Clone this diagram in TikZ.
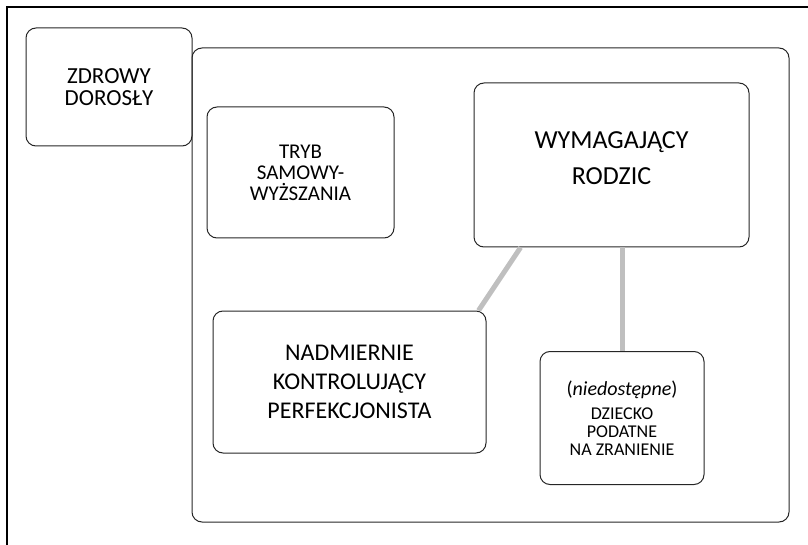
\documentclass[tikz,border=0pt]{standalone}
\usepackage{fontspec}
\setmainfont{Carlito}
\usepackage{tikz}
\usetikzlibrary{positioning}

\tikzset{
  modebox/.style={draw=black!85, line width=1pt, rounded corners=10pt, align=center},
  link/.style={draw=black!25, line width=5pt}
}

\begin{document}
\begin{tikzpicture}[x=1pt, y=-1pt]
    \useasboundingbox (0,0) rectangle (808,545);

    % Draw outer frame
    \draw[line width=2pt] (7,545) -- (7,7) -- (808,7);

    % Draw container and healthy adult
    \node[modebox, minimum width=597pt, minimum height=474pt] (modes) at (490.5,285) {};
    \node[modebox, minimum width=166pt, minimum height=118pt,
          font=\fontsize{23}{21.5}\selectfont] (adult) at (109,87) {ZDROWY\\DOROSŁY};

    % Draw inner modes
    \node[modebox, minimum width=187pt, minimum height=131pt,
          font=\fontsize{21}{21}\selectfont] (aggr) at (300.5,172.5) {TRYB\\SAMOWY-\\WYŻSZANIA};
    \node[modebox, minimum width=275pt, minimum height=164pt] (parent) at (611.5,165) {};
    \node[align=center, font=\fontsize{26}{36}\selectfont] (parenttext)
          at ([yshift=7pt]parent.center) {WYMAGAJĄCY\\RODZIC};
    \node[modebox, minimum width=273pt, minimum height=142pt,
          font=\fontsize{24}{29}\selectfont] (perf) at (349.5,382) {NADMIERNIE\\KONTROLUJĄCY\\PERFEKCJONISTA};
    \node[modebox, minimum width=164pt, minimum height=133pt,
          font=\fontsize{18}{18}\selectfont] (child) at (622,418)
          {{\fontsize{20}{20}\selectfont(\textit{niedostępne})}\\[6pt]DZIECKO\\PODATNE\\NA ZRANIENIE};

    % Draw links
    \coordinate (parentsw) at ([xshift=47pt]parent.south west);
    \coordinate (perfne) at ([xshift=-8pt]perf.north east);
    \draw[link] (parentsw) -- (perfne);
    \draw[link] (parent.south -| child.north) -- (child.north);
\end{tikzpicture}
\end{document}
